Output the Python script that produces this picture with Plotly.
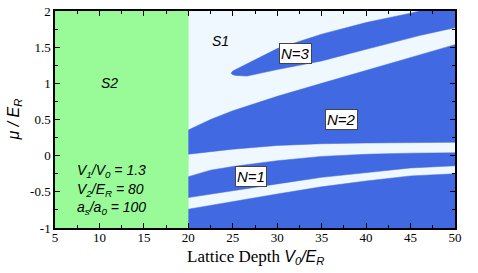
import plotly.graph_objects as go

# ---- data ----
x_sf2 = [5, 20]                      # S2 (green) region in V0/E_R
mu_range = [-1, 2]

x_b = [20, 22.5, 25, 30, 35, 40, 45, 50]
lowband_bot = [-0.74, -0.69, -0.64, -0.53, -0.43, -0.35, -0.28, -0.25]
lowband_top = [-0.58, -0.53, -0.49, -0.39, -0.30, -0.23, -0.17, -0.14]
upband_bot = [-0.29, -0.20, -0.15, -0.07, -0.01, 0.02, 0.035, 0.04]
upband_top = [0.02, 0.06, 0.09, 0.14, 0.165, 0.175, 0.18, 0.185]
n2_top = [0.355, 0.50, 0.62, 0.82, 1.0, 1.18, 1.36, 1.535]

x_n3 = [24.8, 25.0, 25.3, 26.6, 30, 35, 40, 45, 46, 50]
n3_bot = [1.14, 1.12, 1.11, 1.10, 1.19, 1.31, 1.47, 1.63, 1.66, 1.77]
n3_top = [1.14, 1.17, 1.20, 1.27, 1.48, 1.68, 1.84, 1.97, 2.0, 2.0]

x_ticks = [5, 10, 15, 20, 25, 30, 35, 40, 45, 50]
y_ticks = [-1, -0.5, 0, 0.5, 1, 1.5, 2]
y_ticktext = ["-1", "-0.5", "0", "0.5", "1", "1.5", "2"]

GREEN = "#98FB98"
BLUE = "#4169E1"
WHITE = "#F0F8FF"

fig = go.Figure()

def band(xs, lo, hi, color):
    fig.add_trace(go.Scatter(
        x=list(xs) + list(xs)[::-1],
        y=list(lo) + list(hi)[::-1],
        fill="toself", fillcolor=color, mode="lines",
        line=dict(width=0.5, color=color), hoverinfo="skip", showlegend=False))

# S2 region
band(x_sf2, [mu_range[0]] * 2, [mu_range[1]] * 2, GREEN)
# blue regions
band(x_b, [mu_range[0]] * len(x_b), lowband_bot, BLUE)
band(x_b, lowband_top, upband_bot, BLUE)
band(x_b, upband_top, n2_top, BLUE)
band(x_n3, n3_bot, n3_top, BLUE)

sans = "Liberation Sans, Arial, sans-serif"
serif = "Liberation Serif, Times New Roman, serif"

ann = []
def boxed(x, y, t):
    ann.append(dict(x=x, y=y, xref="x", yref="y", text=f"<i>{t}</i>", showarrow=False,
                    font=dict(family=sans, size=15, color="black"),
                    bgcolor="white", bordercolor="#444", borderwidth=1, borderpad=1))
boxed(32.1, 1.41, "N=3")
boxed(37.2, 0.50, "N=2")
boxed(27.05, -0.29, "N=1")

ann.append(dict(x=23.6, y=1.59, xref="x", yref="y", text="<i>S1</i>", showarrow=False,
                font=dict(family=sans, size=14, color="black")))
ann.append(dict(x=11.13, y=1.0, xref="x", yref="y", text="<i>S2</i>", showarrow=False,
                font=dict(family=sans, size=14, color="black")))

params = ["<i>V<sub>1</sub>/V<sub>0</sub> = 1.3</i>",
          "<i>V<sub>2</sub>/E<sub>R</sub> = 80</i>",
          "<i>a<sub>s</sub>/a<sub>0</sub> = 100</i>"]
for t, yy in zip(params, [-0.21, -0.47, -0.72]):
    ann.append(dict(x=7.2, y=yy, xref="x", yref="y", text=t, showarrow=False,
                    xanchor="left", font=dict(family=sans, size=14, color="black")))

# axis titles
ann.append(dict(x=0.5, y=-0.135, xref="paper", yref="paper", showarrow=False,
                xanchor="center", yanchor="middle",
                text="Lattice Depth <span style='font-family:Liberation Sans;font-size:16px'><i>V<sub>0</sub>/E<sub>R</sub></i></span>",
                font=dict(family=serif, size=17, color="black")))
ann.append(dict(x=-0.1025, y=0.5, xref="paper", yref="paper", showarrow=False,
                xanchor="center", yanchor="middle", textangle=-90,
                text="<i>μ / E<sub>R</sub></i>",
                font=dict(family=sans, size=16, color="black")))

axis_common = dict(showline=True, linecolor="black", linewidth=1.5, mirror="ticks",
                   ticks="inside", ticklen=5, tickwidth=1, tickcolor="black",
                   showgrid=False, zeroline=False, automargin=False,
                   tickfont=dict(family=serif, size=13, color="black"))

fig.update_layout(
    width=478, height=273,
    margin=dict(l=55, r=23, t=11, b=45, autoexpand=False),
    paper_bgcolor="white", plot_bgcolor=WHITE,
    showlegend=False,
    annotations=ann,
    xaxis=dict(range=[5, 50], tickvals=x_ticks, ticklabelstandoff=-3,
               minor=dict(dtick=2.5, tick0=5, ticks="inside", ticklen=3, tickcolor="black"),
               **axis_common),
    yaxis=dict(range=[-1, 2], tickvals=y_ticks, ticktext=y_ticktext,
               minor=dict(dtick=0.25, tick0=0, ticks="inside", ticklen=3, tickcolor="black"),
               **axis_common),
)

fig.write_html("out.html", config={"displayModeBar": False},
               post_script="document.body.style.margin='0';document.body.style.overflow='hidden';")
